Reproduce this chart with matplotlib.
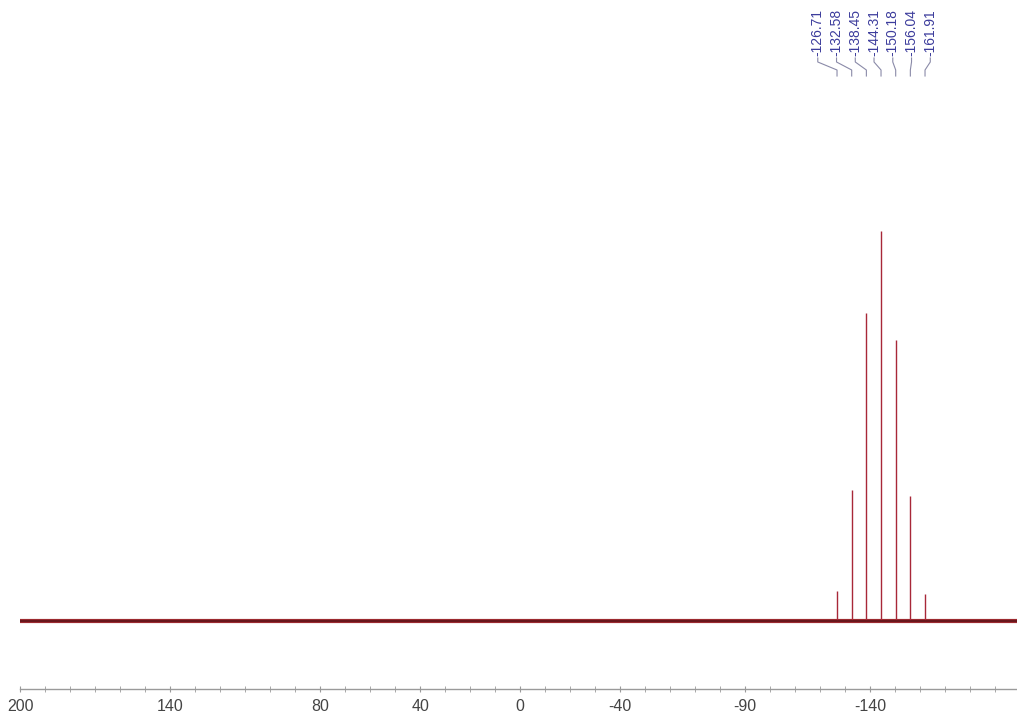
import numpy as np
import matplotlib
matplotlib.use("Agg")
import matplotlib.pyplot as plt
from matplotlib.ticker import MultipleLocator

# peaks (ppm) and relative heights
peak_ppm = [-126.71, -132.58, -138.45, -144.31, -150.18, -156.04, -161.91]
peak_int = [0.077, 0.336, 0.790, 1.000, 0.721, 0.321, 0.069]
tick_vals = [200, 140, 80, 40, 0, -40, -90, -140]
tick_text = ["200", "140", "80", "40", "0", "-40", "-90", "-140"]

W, H = 1017, 716
fig = plt.figure(figsize=(W / 100, H / 100), dpi=100)
fig.patch.set_facecolor("white")
ax = fig.add_axes([20 / W, 27 / H, 997 / W, 689 / H])
ax.set_xlim(200.1, -198.7)
ax.set_ylim(-68 / 390, 621 / 390)

SPEC = "#a82838"
# baseline (noisy band in the original) + peaks
ax.plot([200.1, -198.7], [0, 0], color="#9c2a30", lw=3.0, solid_capstyle="butt", zorder=2)
ax.plot([200.1, -198.7], [0, 0], color="#5a1216", lw=1.1, solid_capstyle="butt", zorder=3)
ax.vlines(peak_ppm, 0, peak_int, color=SPEC, lw=1.0, zorder=2)

# axis
for s in ["top", "right", "left"]:
    ax.spines[s].set_visible(False)
ax.spines["bottom"].set_color("#9a9a9a")
ax.spines["bottom"].set_linewidth(1.0)
ax.set_yticks([])
ax.set_xticks(tick_vals)
ax.set_xticklabels(tick_text, fontsize=11.5, color="#444444", family="Liberation Sans")
ax.xaxis.set_minor_locator(MultipleLocator(10))
ax.tick_params(axis="x", which="major", length=4, direction="inout", color="#9a9a9a", pad=5)
ax.tick_params(axis="x", which="minor", length=4, direction="inout", color="#9a9a9a")

# peak labels with connectors
tr = ax.get_xaxis_transform()
def fy(r):
    return (689 - r) / 689

centre = np.mean(peak_ppm) + 2.8
n = len(peak_ppm)
LBL = "#3c3c9c"
for i, (p, v) in enumerate(zip(peak_ppm, peak_ppm)):
    lx = centre - (i - (n - 1) / 2) * 7.5
    ax.text(lx, fy(56), f"{v:.2f}", rotation=90, ha="center", va="bottom",
            transform=tr, fontsize=10, color=LBL, family="Liberation Sans")
    ax.plot([lx, lx, p, p], [fy(58), fy(62), fy(70), fy(76)], transform=tr,
            color="#8a8aa8", lw=0.8, clip_on=False)

fig.savefig("out.png", dpi=100, facecolor="white")
